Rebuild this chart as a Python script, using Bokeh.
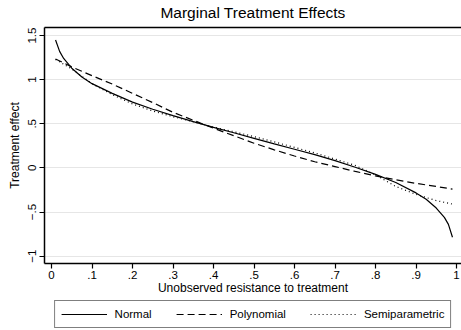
from bokeh.plotting import figure
from bokeh.layouts import column
from bokeh.models import Range1d, FixedTicker, LinearAxis, Legend, LegendItem
from bokeh.embed import file_html
from bokeh.resources import INLINE

# ---- data ----
u_normal = [0.01, 0.02, 0.03, 0.05, 0.075, 0.1, 0.15, 0.2, 0.25, 0.3, 0.35, 0.4, 0.45,
            0.5, 0.55, 0.6, 0.65, 0.7, 0.75, 0.8, 0.85, 0.9, 0.925, 0.95, 0.97, 0.98, 0.99]
mte_normal = [1.45, 1.32, 1.24, 1.13, 1.03, 0.955, 0.845, 0.745, 0.665, 0.593, 0.525, 0.46, 0.398,
              0.335, 0.273, 0.212, 0.15, 0.083, 0.008, -0.073, -0.165, -0.283, -0.355, -0.455,
              -0.56, -0.64, -0.785]

u_poly = [0.01, 0.05, 0.1, 0.15, 0.2, 0.25, 0.3, 0.35, 0.4, 0.45, 0.5, 0.55, 0.6, 0.65,
          0.7, 0.75, 0.8, 0.85, 0.9, 0.95, 0.99]
mte_poly = [1.235, 1.145, 1.045, 0.95, 0.845, 0.74, 0.63, 0.54, 0.45, 0.365, 0.28, 0.205,
            0.135, 0.07, 0.015, -0.04, -0.09, -0.135, -0.175, -0.21, -0.24]

u_semi = [0.01, 0.05, 0.1, 0.15, 0.2, 0.25, 0.3, 0.35, 0.4, 0.45, 0.5, 0.55, 0.6, 0.65,
          0.7, 0.75, 0.8, 0.85, 0.9, 0.95, 0.99]
mte_semi = [1.23, 1.12, 0.955, 0.83, 0.725, 0.645, 0.58, 0.522, 0.462, 0.41, 0.355, 0.295,
            0.233, 0.17, 0.1, 0.028, -0.08, -0.21, -0.30, -0.37, -0.41]

x_ticks = [0, 0.1, 0.2, 0.3, 0.4, 0.5, 0.6, 0.7, 0.8, 0.9, 1]
x_tick_labels = ["0", ".1", ".2", ".3", ".4", ".5", ".6", ".7", ".8", ".9", "1"]
y_ticks = [-1, -0.5, 0, 0.5, 1, 1.5]
y_tick_labels = ["\u22121", "\u2212.5", "0", ".5", "1", "1.5"]

title_text = "Marginal Treatment Effects"
x_label = "Unobserved resistance to treatment"
y_label = "Treatment effect"
series_names = ["Normal", "Polynomial", "Semiparametric"]

FONT = "Liberation Sans"
styles = [dict(line_color="black", line_width=1.2),
          dict(line_color="black", line_width=1.2, line_dash="7 4"),
          dict(line_color="black", line_width=1.2, line_dash="1 3")]

p = figure(width=461, height=297, output_backend="svg", toolbar_location=None,
           x_range=Range1d(-0.0173, 1.0123), y_range=Range1d(-1.083, 1.591),
           min_border_left=44, min_border_right=0, min_border_top=26,
           min_border_bottom=34, background_fill_color="white",
           border_fill_color="white", outline_line_color=None)

# axes
xa = p.xaxis[0]
xa.ticker = FixedTicker(ticks=x_ticks)
xa.major_label_overrides = {t: l for t, l in zip(x_ticks, x_tick_labels)}
xa.axis_label = x_label
ya = p.yaxis[0]
ya.ticker = FixedTicker(ticks=y_ticks)
ya.major_label_overrides = {t: l for t, l in zip(y_ticks, y_tick_labels)}
ya.axis_label = y_label
ya.major_label_orientation = "vertical"

for ax in (xa, ya):
    ax.axis_line_color = "black"
    ax.axis_line_width = 1.5
    ax.major_tick_line_color = "black"
    ax.major_tick_line_width = 1.2
    ax.major_tick_out = 5
    ax.major_tick_in = 0
    ax.minor_tick_line_color = None
    ax.major_label_text_font = FONT
    ax.major_label_text_font_size = "11.5px"
    ax.major_label_text_color = "black"
    ax.major_label_standoff = 2
    ax.axis_label_text_font = FONT
    ax.axis_label_text_font_size = "12px"
    ax.axis_label_text_font_style = "normal"
    ax.axis_label_text_color = "black"
xa.axis_label_standoff = -1
ya.axis_label_standoff = 4
ya.major_label_standoff = 3

# top axis used as title + top border line
top = LinearAxis(ticker=FixedTicker(ticks=[]), axis_label=title_text,
                 axis_line_color="black", axis_line_width=1.5,
                 major_tick_line_color=None, minor_tick_line_color=None,
                 axis_label_text_font=FONT, axis_label_text_font_size="15.5px",
                 axis_label_text_font_style="normal", axis_label_text_color="black",
                 axis_label_standoff=7)
p.add_layout(top, "above")

p.xgrid.grid_line_color = None
p.ygrid.grid_line_color = "#e6e6e6"
p.ygrid.grid_line_width = 1.2

p.line(u_normal, mte_normal, **styles[0])
p.line(u_poly, mte_poly, **styles[1])
p.line(u_semi, mte_semi, **styles[2])

# legend strip below the chart (its lines lie outside its visible range)
lp = figure(width=461, height=33, output_backend="svg", toolbar_location=None,
            x_range=Range1d(0, 1), y_range=Range1d(10, 11),
            min_border_left=0, min_border_right=0, min_border_top=0, min_border_bottom=0,
            background_fill_color="white", border_fill_color="white",
            outline_line_color=None)
lp.axis.visible = False
lp.grid.visible = False
l1 = lp.line(u_normal, mte_normal, **styles[0])
l2 = lp.line(u_poly, mte_poly, **styles[1])
l3 = lp.line(u_semi, mte_semi, **styles[2])

legend = Legend(items=[LegendItem(label=series_names[0], renderers=[l1]),
                       LegendItem(label=series_names[1], renderers=[l2]),
                       LegendItem(label=series_names[2], renderers=[l3])],
                orientation="horizontal", location="center",
                border_line_color="black", border_line_width=1,
                background_fill_color="white", background_fill_alpha=1,
                label_text_font=FONT, label_text_font_size="11.5px",
                label_text_color="black", glyph_width=46, glyph_height=14,
                label_standoff=8, spacing=24, padding=6, margin=0,
                label_height=14)
lp.add_layout(legend, "center")

open("out.html", "w").write(file_html(column(p, lp, spacing=0), INLINE))
